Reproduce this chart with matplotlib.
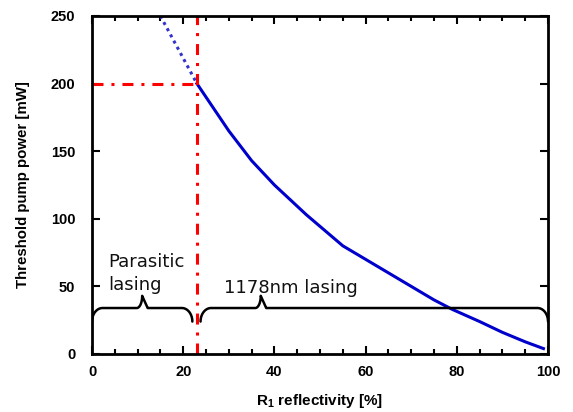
import numpy as np
import matplotlib
matplotlib.use("Agg")
import matplotlib.pyplot as plt
from matplotlib.ticker import MultipleLocator

plt.rcParams['font.family'] = ['Liberation Sans', 'DejaVu Sans']

# Data
r1_solid = [23, 30, 35, 40, 47, 55, 65, 75, 79, 85, 90, 95, 99]
p_solid = [200, 165, 143, 125, 103, 80, 60, 40, 33, 24, 16, 9, 4]
r1_dotted = [15, 23]
p_dotted = [250, 200]
threshold_r1 = 23
threshold_p = 200

xticks = [0, 20, 40, 60, 80, 100]
yticks = [0, 50, 100, 150, 200, 250]

fig = plt.figure(figsize=(5.73, 4.12), dpi=100)
ax = fig.add_axes([0.1606, 0.1408, 0.7958, 0.8204])

ax.plot(r1_dotted, p_dotted, color='#3333cc', lw=2.2, ls=(0, (1, 1.3)))
ax.plot(r1_solid, p_solid, color='#0000cc', lw=2.2)

redls = (0, (3.6, 2.6, 1, 2.6))
ax.plot([threshold_r1, threshold_r1], [0, 250], color='#ff0000', lw=2.2, ls=redls)
ax.plot([0, threshold_r1], [threshold_p, threshold_p], color='#ff0000', lw=2.2, ls=redls)


def brace(x0, x1, xtip, yline, yend, ytip, rx_end=2.3, rx_tip=1.2):
    t = np.linspace(0, np.pi / 2, 20)
    ry_end = yline - yend
    ry_tip = ytip - yline
    xs, ys = [], []
    xs += list(x0 + rx_end - rx_end * np.cos(t)); ys += list(yend + ry_end * np.sin(t))
    xs += list(xtip - rx_tip + rx_tip * np.sin(t)); ys += list(ytip - ry_tip * np.cos(t))
    xs += list(xtip + rx_tip - rx_tip * np.cos(t)); ys += list(yline + ry_tip * np.cos(t))
    xs += list(x1 - rx_end + rx_end * np.sin(t)); ys += list(yline - ry_end + ry_end * np.cos(t))
    ax.plot(xs, ys, color='black', lw=1.8, solid_capstyle='round')


brace(0, 22, 11, 34, 24, 43)
brace(23.8, 100, 37, 34, 24, 43)

afont = dict(fontsize=13, family=['DejaVu Sans'], color='#111111')
ax.text(3.5, 64.3, 'Parasitic', va='baseline', ha='left', **afont)
ax.text(3.5, 47.3, 'lasing', va='baseline', ha='left', **afont)
ax.text(29, 45.1, '1178nm lasing', va='baseline', ha='left', **afont)

ax.set_xlim(0, 100)
ax.set_ylim(0, 250)
ax.set_xticks(xticks)
ax.set_yticks(yticks)
ax.xaxis.set_minor_locator(MultipleLocator(5))
ax.tick_params(which='both', direction='in', top=True, right=True, width=1.5)
ax.tick_params(which='major', length=6, labelsize=10.5)
ax.tick_params(axis='y', which='major', pad=12)
ax.tick_params(axis='x', which='major', pad=8)
ax.tick_params(which='minor', length=3.5)
for lab in ax.get_xticklabels() + ax.get_yticklabels():
    lab.set_fontweight('bold')
for s in ax.spines.values():
    s.set_linewidth(2)

ax.set_xlabel(r'R$_\mathregular{1}$ reflectivity [%]', fontsize=11, fontweight='bold', labelpad=9)
ax.set_ylabel('Threshold pump power [mW]', fontsize=10.8, fontweight='bold', labelpad=15)

fig.savefig('out.png', dpi=100)
